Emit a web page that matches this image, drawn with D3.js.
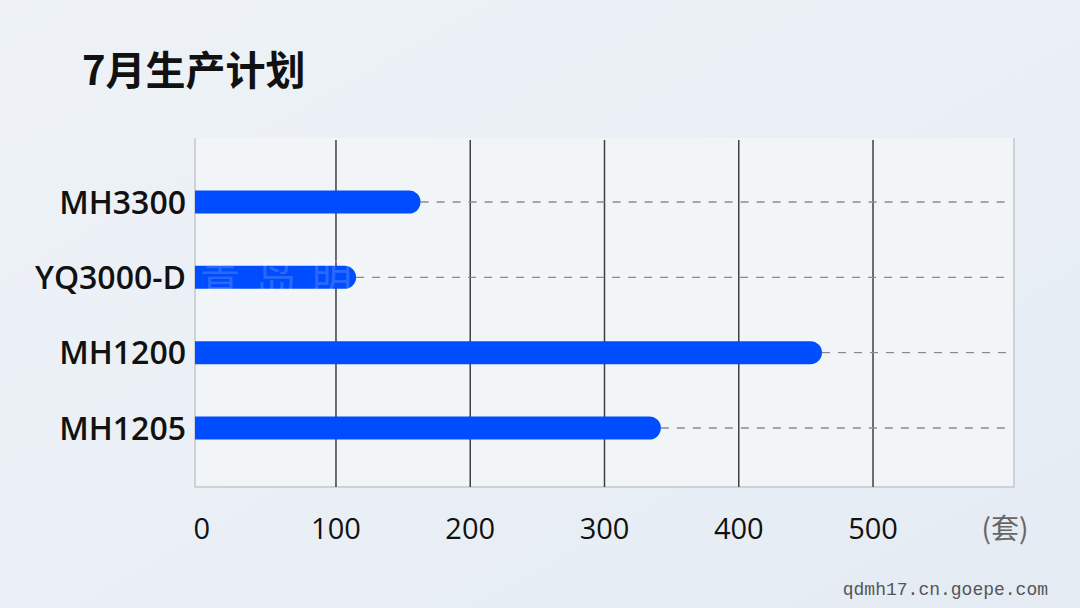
<!DOCTYPE html>
<html><head><meta charset="utf-8">
<script src="https://cdn.jsdelivr.net/npm/d3@7"></script>
<style>html,body{margin:0;padding:0;}svg{display:block;}</style>
</head><body>
<script>
const categories = ["MH3300", "YQ3000-D", "MH1200", "MH1205"];
const values = [163, 115, 462, 342];
const tickValues = [0, 100, 200, 300, 400, 500];
const title = "7月生产计划";
const unitLabel = "(套)";
const footer = "qdmh17.cn.goepe.com";

const W = 1080, H = 608;
const svg = d3.select("body").append("svg").attr("width", W).attr("height", H);
const defs = svg.append("defs");
const bg = defs.append("linearGradient").attr("id", "bg").attr("x1", 0).attr("y1", 0).attr("x2", 1).attr("y2", 1);
bg.append("stop").attr("offset", "0%").attr("stop-color", "#eef2f7");
bg.append("stop").attr("offset", "60%").attr("stop-color", "#e9eff5");
bg.append("stop").attr("offset", "100%").attr("stop-color", "#e4ebf3");
svg.append("rect").attr("width", W).attr("height", H).attr("fill", "url(#bg)");

const L = 195, R = 1014, T = 138, B = 487;
const x = d3.scaleLinear().domain([-5, 605]).range([L, R]);
const y = d3.scalePoint().domain(categories).range([202, 428]);

// panel
svg.append("rect").attr("x", L).attr("y", T).attr("width", R - L).attr("height", B - T).attr("fill", "#f2f5f8");
svg.append("path").attr("d", `M${L},${T}V${B}H${R}V${T}`).attr("fill", "none").attr("stroke", "#c2c7cf").attr("stroke-width", 1.5);

// gridlines
svg.append("g").selectAll("line").data(tickValues.filter(d => d > 0)).join("line")
  .attr("x1", d => x(d)).attr("x2", d => x(d)).attr("y1", T + 2).attr("y2", B)
  .attr("stroke", "#3f3f3f").attr("stroke-width", 1.5);

// dashed guide lines
const data = categories.map((c, i) => ({c, v: values[i]}));
svg.append("g").selectAll("line").data(data).join("line")
  .attr("x1", d => x(d.v)).attr("x2", R - 8).attr("y1", d => y(d.c)).attr("y2", d => y(d.c))
  .attr("stroke", "#8a8a8a").attr("stroke-width", 1.3).attr("stroke-dasharray", "8,8");

// bars (rounded right end)
const bh = 23, r = bh / 2;
svg.append("g").selectAll("path").data(data).join("path")
  .attr("d", d => {
    const x0 = L, x1 = x(d.v), yc = y(d.c);
    return `M${x0},${yc - r}H${x1 - r}A${r},${r} 0 0 1 ${x1 - r},${yc + r}H${x0}Z`;
  })
  .attr("fill", "#004cff");

// faint watermark
svg.append("text").attr("x", 200).attr("y", 292).text("青岛明")
  .attr("font-family", "Noto Sans CJK SC").attr("font-size", 40).attr("letter-spacing", 16)
  .attr("fill", "#ffffff").attr("opacity", 0.16);

// category labels
svg.append("g").selectAll("text").data(categories).join("text")
  .attr("x", 186).attr("y", d => y(d)).attr("dy", "0.36em").attr("text-anchor", "end")
  .attr("font-family", "'Open Sans', Roboto, sans-serif").attr("font-weight", 600).attr("font-size", 32)
  .attr("fill", "#111").text(d => d);

// tick labels
svg.append("g").selectAll("text").data(tickValues).join("text")
  .attr("x", d => x(d)).attr("y", 539).attr("text-anchor", "middle")
  .attr("font-family", "'Open Sans', Roboto, sans-serif").attr("font-size", 29)
  .attr("fill", "#111").text(d => d);

svg.append("text").attr("x", 1005).attr("y", 539).attr("text-anchor", "middle")
  .attr("font-family", "'Noto Sans CJK SC', sans-serif").attr("font-size", 28)
  .attr("fill", "#666").text(unitLabel);

// title
svg.append("text").attr("x", 82).attr("y", 85)
  .attr("font-family", "'Noto Sans CJK SC', sans-serif").attr("font-weight", 700).attr("font-size", 40)
  .attr("fill", "#111").text(title);

// footer
svg.append("text").attr("x", 1048).attr("y", 595).attr("text-anchor", "end")
  .attr("font-family", "'Liberation Mono', 'DejaVu Sans Mono', monospace").attr("font-size", 18)
  .attr("fill", "#555").text(footer);
</script>
</body></html>
